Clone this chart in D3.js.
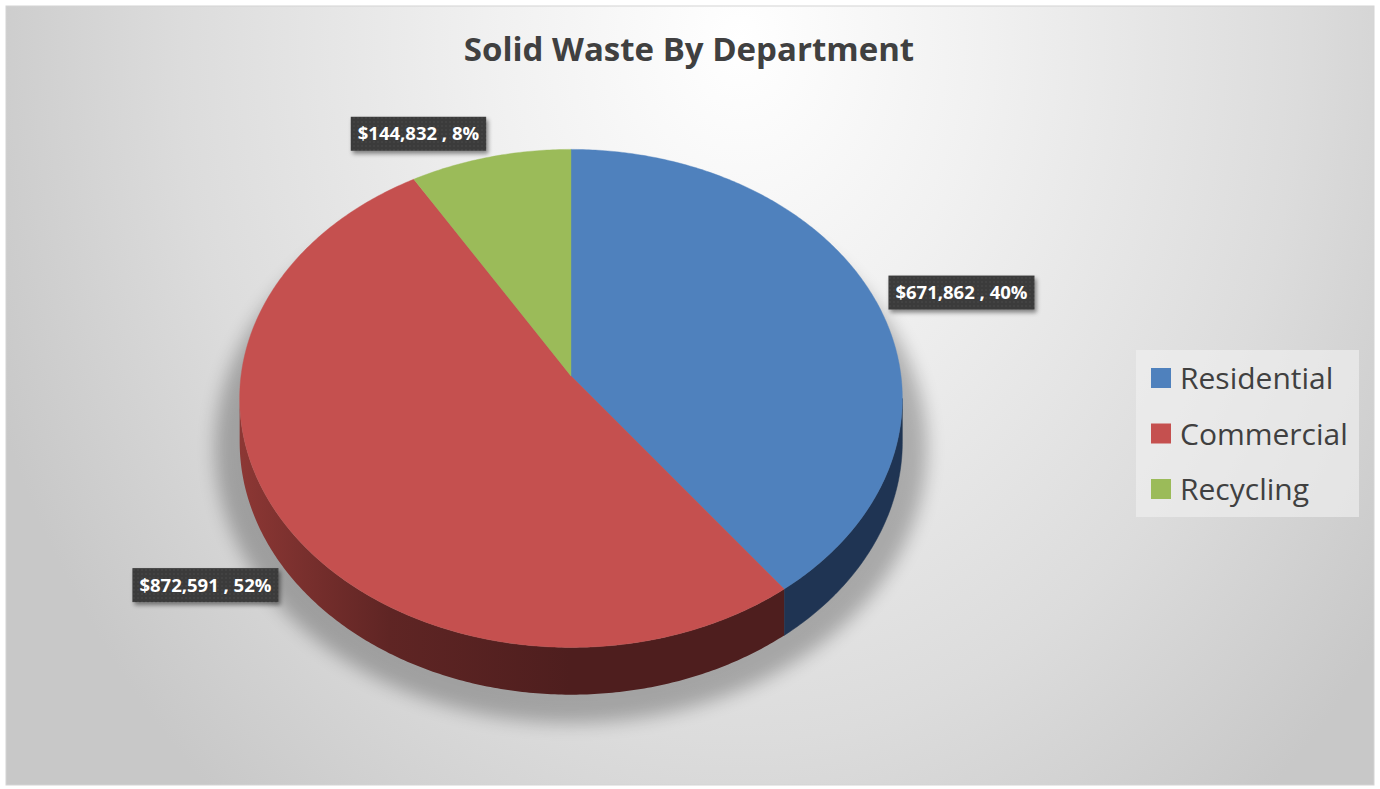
<!DOCTYPE html>
<html>
<head>
<meta charset="utf-8">
<script src="https://cdn.jsdelivr.net/npm/d3@7"></script>
<style>
  html, body { margin: 0; padding: 0; background: #fff; }
  svg { display: block; }
</style>
</head>
<body>
<div id="chart"></div>
<script>
// data
var categories = ["Residential", "Commercial", "Recycling"];
var amounts = [671862, 872591, 144832];
var pctLabels = ["40%", "52%", "8%"];
var topColors = ["#4f81bd", "#c5504f", "#9bbb59"];
var wallColors = ["#1f3453", "#4e1e1e", "#5e7532"];
var chartTitle = "Solid Waste By Department";

var width = 1380,
    height = 789,
    cx = 571, cy = 376,   // centre of the top face
    rx = 330, ry = 247,   // radii before perspective
    persp = 0.09,         // how much nearer points grow
    depth = 43;

var fmt = d3.format("$,");

var svg = d3.select("#chart").append("svg")
    .attr("width", width)
    .attr("height", height);

var defs = svg.append("defs");

// chart background
var bg = defs.append("radialGradient")
    .attr("id", "bg")
    .attr("gradientUnits", "userSpaceOnUse")
    .attr("cx", 740).attr("cy", 40).attr("r", 800)
    .attr("gradientTransform", "translate(740,40) scale(1,1.25) translate(-740,-40)");
bg.append("stop").attr("offset", 0).attr("stop-color", "#ffffff");
bg.append("stop").attr("offset", 0.3).attr("stop-color", "#f1f1f1");
bg.append("stop").attr("offset", 0.7).attr("stop-color", "#dcdcdc");
bg.append("stop").attr("offset", 1).attr("stop-color", "#c8c8c8");

var blur = defs.append("filter").attr("id", "blur")
    .attr("x", "-20%").attr("y", "-20%").attr("width", "140%").attr("height", "140%");
blur.append("feGaussianBlur").attr("stdDeviation", 9);

var drop = defs.append("filter").attr("id", "drop")
    .attr("x", "-10%").attr("y", "-20%").attr("width", "130%").attr("height", "160%");
drop.append("feDropShadow").attr("dx", 2).attr("dy", 3)
    .attr("stdDeviation", 2).attr("flood-color", "#000").attr("flood-opacity", 0.45);

var dots = defs.append("pattern").attr("id", "dots")
    .attr("patternUnits", "userSpaceOnUse").attr("width", 4).attr("height", 4);
dots.append("rect").attr("width", 4).attr("height", 4).attr("fill", "#3b3b3b");
dots.append("circle").attr("cx", 2).attr("cy", 2).attr("r", 0.8).attr("fill", "#4b4b4b");

// red wall gets lighter toward the left
var redWall = defs.append("linearGradient").attr("id", "wall1")
    .attr("gradientUnits", "userSpaceOnUse")
    .attr("x1", cx - rx).attr("x2", cx).attr("y1", 0).attr("y2", 0);
redWall.append("stop").attr("offset", 0).attr("stop-color", "#8c3734");
redWall.append("stop").attr("offset", 0.45).attr("stop-color", "#5f2524");
redWall.append("stop").attr("offset", 1).attr("stop-color", "#4e1e1e");

svg.append("rect")
    .attr("x", 6).attr("y", 6)
    .attr("width", width - 12).attr("height", height - 10)
    .attr("fill", "url(#bg)")
    .attr("stroke", "#d4d4d4");

svg.append("text")
    .attr("x", 689).attr("y", 61)
    .attr("text-anchor", "middle")
    .attr("font-family", "'Open Sans', sans-serif")
    .attr("font-weight", "bold")
    .attr("font-size", 33)
    .attr("fill", "#404040")
    .text(chartTitle);

var pie = d3.pie().sort(null).value(function (d) { return d; });
var arcs = pie(amounts);

// point on the rim for pie angle a (0 = top, clockwise), dz = drop down
function proj(a, dz) {
    var X = Math.sin(a), Z = Math.cos(a), s = 1 / (1 + persp * Z);
    return [cx + rx * X * s, cy - ry * Z * s + (dz || 0) * s];
}

function rim(a0, a1, dz) {
    var n = Math.max(2, Math.ceil((a1 - a0) / 0.01)), pts = [];
    for (var i = 0; i <= n; i++) pts.push(proj(a0 + (a1 - a0) * i / n, dz));
    return pts;
}

// shadow under the pie
svg.append("ellipse")
    .attr("cx", cx).attr("cy", cy + 72)
    .attr("rx", rx + 26).attr("ry", ry + 28)
    .attr("fill", "#000")
    .attr("opacity", 0.26)
    .attr("filter", "url(#blur)");

// front walls, between the two silhouette points
var side0 = Math.acos(-persp), side1 = 2 * Math.PI - side0;
function wallPath(a0, a1) {
    var s = Math.max(a0, side0), e = Math.min(a1, side1);
    if (s >= e) return null;
    return d3.line()(rim(s, e, 0).concat(rim(s, e, depth).reverse())) + "Z";
}

svg.append("g").selectAll("path")
    .data(arcs)
    .enter()
    .append("path")
    .attr("d", function (d) { return wallPath(d.startAngle, d.endAngle); })
    .attr("fill", function (d, i) { return i == 1 ? "url(#wall1)" : wallColors[i]; })
    .attr("stroke", function (d, i) { return i == 1 ? "none" : wallColors[i]; })
    .attr("stroke-width", 0.5);

// top face
svg.append("g").selectAll("path")
    .data(arcs)
    .enter()
    .append("path")
    .attr("d", function (d) {
        return d3.line()([[cx, cy]].concat(rim(d.startAngle, d.endAngle, 0))) + "Z";
    })
    .attr("fill", function (d, i) { return topColors[i]; })
    .attr("stroke", function (d, i) { return topColors[i]; })
    .attr("stroke-width", 0.4);

// data labels
var labels = svg.append("g")
    .attr("font-family", "'Open Sans', sans-serif")
    .attr("font-weight", "bold")
    .attr("font-size", 18.5)
    .selectAll("g")
    .data(arcs)
    .enter()
    .append("g");

labels.each(function (d, i) {
    var g = d3.select(this);
    var t = g.append("text")
        .attr("fill", "#fff")
        .text(fmt(amounts[i]) + " , " + pctLabels[i]);
    var w = t.node().getComputedTextLength() + 14,
        h = 34;
    var a = (d.startAngle + d.endAngle) / 2,
        p = proj(a, 0),
        Z = Math.cos(a);
    var x0 = Math.sin(a) > 0 ? p[0] + 13 : p[0] - 4 - w;
    var y0 = Z < 0 ? p[1] + depth * 1.1 : p[1] - 24 * Z - h / 2;
    g.insert("rect", "text")
        .attr("x", x0).attr("y", y0)
        .attr("width", w).attr("height", h)
        .attr("fill", "url(#dots)")
        .attr("filter", "url(#drop)");
    t.attr("x", x0 + 7).attr("y", y0 + h / 2 + 6.5);
});

// legend
var legend = svg.append("g").attr("transform", "translate(1136,350)");
legend.append("rect")
    .attr("width", 223).attr("height", 167)
    .attr("fill", "#f0f0f0").attr("opacity", 0.65);

var item = legend.selectAll(".item")
    .data(categories)
    .enter()
    .append("g")
    .attr("class", "item")
    .attr("transform", function (d, i) { return "translate(15," + (28 + i * 55.5) + ")"; });

item.append("rect")
    .attr("x", 0).attr("y", -10)
    .attr("width", 20).attr("height", 20)
    .attr("fill", function (d, i) { return topColors[i]; });

item.append("text")
    .attr("x", 29).attr("y", 11)
    .attr("font-family", "'Open Sans', sans-serif")
    .attr("font-size", 30)
    .attr("fill", "#404040")
    .text(function (d) { return d; });
</script>
</body>
</html>
